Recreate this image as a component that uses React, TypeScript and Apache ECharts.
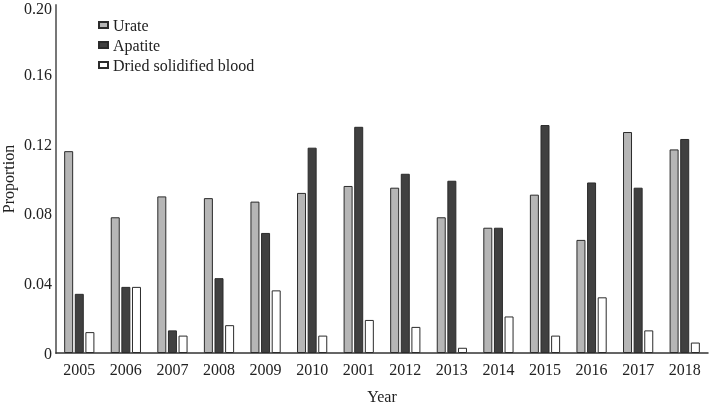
import React, { useEffect, useRef } from "react";
import * as echarts from "echarts";

const years = ["2005", "2006", "2007", "2008", "2009", "2010", "2001", "2012", "2013", "2014", "2015", "2016", "2017", "2018"];
const urate = [0.116, 0.078, 0.090, 0.089, 0.087, 0.092, 0.096, 0.095, 0.078, 0.072, 0.091, 0.065, 0.127, 0.117];
const apatite = [0.034, 0.038, 0.013, 0.043, 0.069, 0.118, 0.130, 0.103, 0.099, 0.072, 0.131, 0.098, 0.095, 0.123];
const blood = [0.012, 0.038, 0.010, 0.016, 0.036, 0.010, 0.019, 0.015, 0.003, 0.021, 0.010, 0.032, 0.013, 0.006];

const FONT = "Liberation Serif";

export default function App() {
  const ref = useRef<HTMLDivElement>(null);
  useEffect(() => {
    if (!ref.current) return;
    const chart = echarts.init(ref.current, undefined, { renderer: "svg" });
    const border = { borderColor: "#2b2b2b", borderWidth: 1 };
    chart.setOption({
      animation: false,
      textStyle: { fontFamily: FONT },
      grid: { left: 56, right: 1, top: 5, bottom: 51, containLabel: false, outerBoundsMode: "none" },
      legend: {
        orient: "vertical",
        left: 93,
        top: 12,
        itemWidth: 9,
        itemHeight: 6,
        itemGap: 4,
        icon: "rect",
        textStyle: { fontFamily: FONT, fontSize: 16, color: "#222", lineHeight: 16 },
        data: ["Urate", "Apatite", "Dried solidified blood"],
      },
      xAxis: {
        type: "category",
        data: years,
        name: "Year",
        nameLocation: "middle",
        nameGap: 35,
        nameMoveOverlap: false,
        nameTextStyle: { fontFamily: FONT, fontSize: 16, color: "#222" },
        axisLine: { lineStyle: { color: "#333", width: 1.5 } },
        axisTick: { show: false },
        axisLabel: { fontFamily: FONT, fontSize: 16, color: "#222", margin: 8 },
      },
      yAxis: {
        type: "value",
        min: 0,
        max: 0.2,
        interval: 0.04,
        name: "Proportion",
        nameLocation: "middle",
        nameGap: 40,
        nameMoveOverlap: false,
        nameRotate: 90,
        nameTextStyle: { fontFamily: FONT, fontSize: 16, color: "#222" },
        axisLine: { show: true, lineStyle: { color: "#777", width: 2 } },
        axisTick: { show: false },
        splitLine: { show: false },
        axisLabel: {
          fontFamily: FONT,
          fontSize: 16,
          color: "#222",
          margin: 4,
          formatter: (v: number) => (v === 0 ? "0" : v >= 0.2 ? "{top|" + v.toFixed(2) + "}" : v.toFixed(2)),
          rich: { top: { fontFamily: FONT, fontSize: 16, color: "#222", padding: [6, 0, 0, 0] } },
        },
      },
      series: [
        { name: "Urate", type: "bar", data: urate, barWidth: 9, barGap: "18%", itemStyle: { color: "#b6b6b6", ...border } },
        { name: "Apatite", type: "bar", data: apatite, barWidth: 9, barGap: "18%", itemStyle: { color: "#404040", ...border } },
        { name: "Dried solidified blood", type: "bar", data: blood, barWidth: 9, barGap: "18%", itemStyle: { color: "#ffffff", ...border } },
      ],
    });
    return () => chart.dispose();
  }, []);
  return <div ref={ref} style={{ position: "fixed", left: 0, top: 0, width: 709, height: 404 }} />;
}
